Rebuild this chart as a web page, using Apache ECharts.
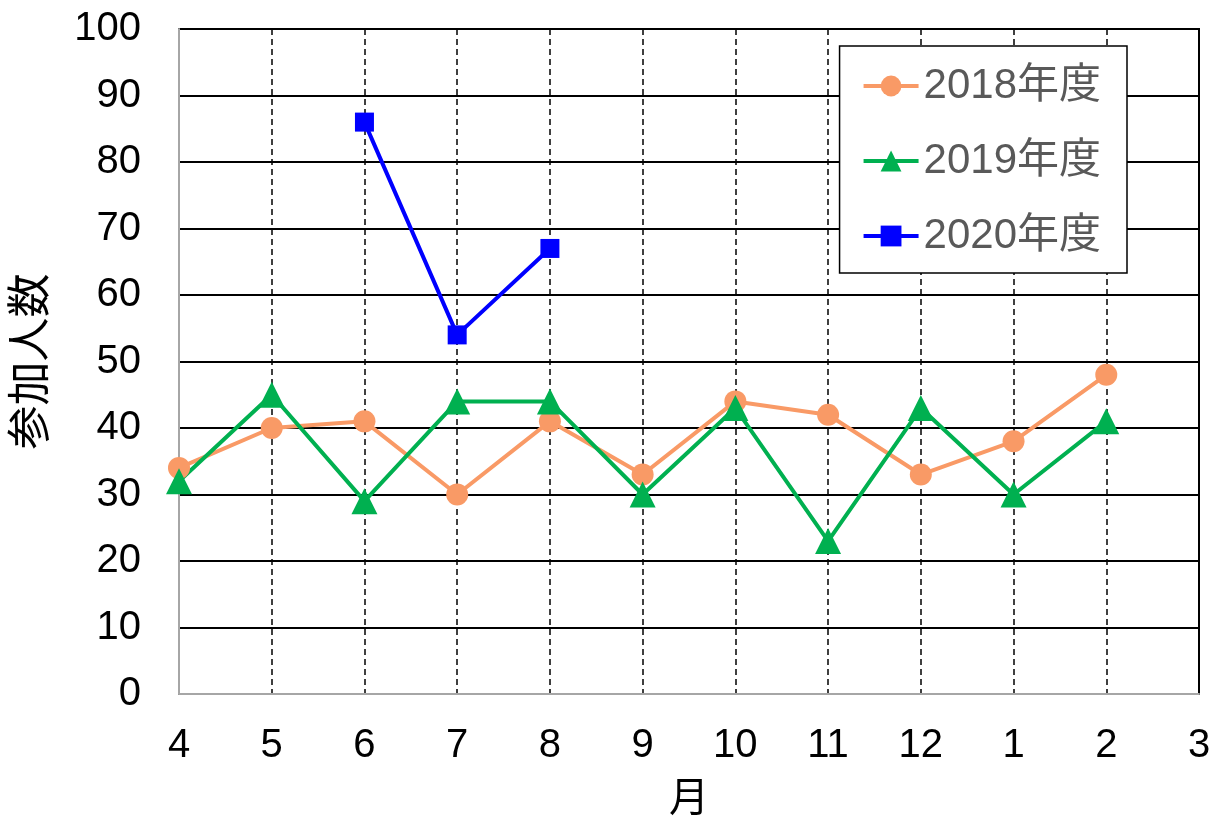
<!DOCTYPE html>
<html>
<head>
<meta charset="utf-8">
<script src="https://cdn.jsdelivr.net/npm/echarts@6/dist/echarts.min.js"></script>
<style>
  html, body { margin: 0; padding: 0; background: #fff; }
  #chart { width: 1218px; height: 826px; }
</style>
</head>
<body>
<div id="chart"></div>
<script>
const months = ['4', '5', '6', '7', '8', '9', '10', '11', '12', '1', '2', '3'];
const fy2018 = [34, 40, 41, 30, 41, 33, 44, 42, 33, 38, 48, null];
const fy2019 = [32, 45, 29, 44, 44, 30, 43, 23, 43, 30, 41, null];
const fy2020 = [null, null, 86, 54, 67, null, null, null, null, null, null, null];

const font = '"Liberation Sans", Arial, "Noto Sans CJK JP", sans-serif';

let chart = echarts.init(document.getElementById('chart'));
chart.setOption({
    animation: false,
    grid: {
        left: 179,
        right: 19,
        top: 29,
        bottom: 132,
        outerBoundsMode: 'none',
        containLabel: false,
        show: true,
        borderColor: '#000',
        borderWidth: 2
    },
    legend: {
        right: 91,
        top: 46,
        orient: 'vertical',
        itemWidth: 55,
        itemHeight: 26,
        itemGap: 33,
        padding: [19, 26, 16, 22],
        borderColor: '#000',
        borderWidth: 1.5,
        backgroundColor: '#fff',
        lineStyle: { width: 4 },
        textStyle: { fontSize: 42, color: '#595959', fontFamily: font },
        data: ['2018年度', '2019年度', '2020年度']
    },
    xAxis: {
        type: 'category',
        data: months,
        boundaryGap: false,
        name: '月',
        nameLocation: 'middle',
        nameGap: 86,
        nameTextStyle: { fontSize: 40, color: '#000', fontFamily: font },
        axisLine: { lineStyle: { color: '#A6A6A6', width: 2 } },
        axisTick: { show: false },
        axisLabel: { fontSize: 40, color: '#000', margin: 32, fontFamily: font },
        splitLine: { show: true, lineStyle: { color: '#000', width: 1.5, type: [6, 4] } }
    },
    yAxis: {
        type: 'value',
        min: 0,
        max: 100,
        interval: 10,
        name: '参加人数',
        nameLocation: 'middle',
        nameGap: 124,
        nameRotate: 90,
        nameTextStyle: { fontSize: 44, color: '#000', fontFamily: font },
        axisLine: { show: true, lineStyle: { color: '#A6A6A6', width: 2 } },
        axisTick: { show: false },
        axisLabel: { fontSize: 40, color: '#000', margin: 38, fontFamily: font },
        splitLine: { show: true, lineStyle: { color: '#000', width: 2 } }
    },
    series: [
        {
            name: '2018年度',
            type: 'line',
            data: fy2018,
            symbol: 'circle',
            symbolSize: 22,
            itemStyle: { color: '#F99A66' },
            lineStyle: { color: '#F99A66', width: 4 }
        },
        {
            name: '2019年度',
            type: 'line',
            data: fy2019,
            symbol: 'triangle',
            symbolSize: 26,
            itemStyle: { color: '#00B050' },
            lineStyle: { color: '#00B050', width: 4 }
        },
        {
            name: '2020年度',
            type: 'line',
            data: fy2020,
            symbol: 'rect',
            symbolSize: 19,
            itemStyle: { color: '#0000FF' },
            lineStyle: { color: '#0000FF', width: 4 }
        }
    ]
});
</script>
</body>
</html>
